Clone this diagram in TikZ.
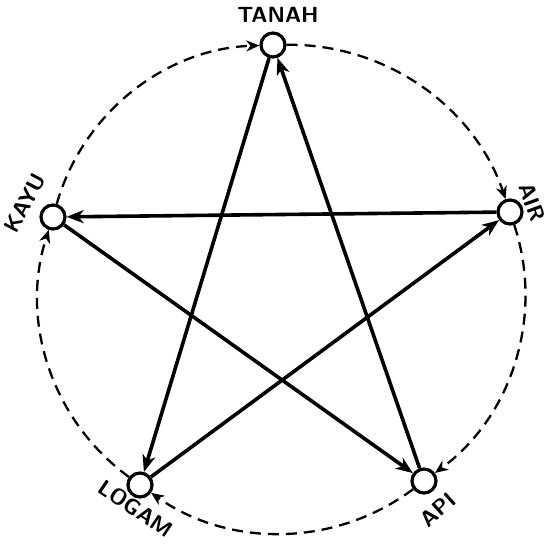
\documentclass[tikz,border=0pt]{standalone}
\usetikzlibrary{arrows.meta}
\begin{document}
\begin{tikzpicture}[x=1pt,y=1pt,
  elem/.style={circle,draw,line width=3.2pt,minimum size=24pt,inner sep=0pt},
  gen/.style={line width=3.6pt,-{Stealth[length=17pt,width=13pt,inset=5pt]}},
  ctrl/.style={line width=2.3pt,dash pattern=on 11pt off 7pt,-{Stealth[length=13pt,width=11pt,inset=4pt]},bend left=36,looseness=0.94},
  lab/.style={font=\fontsize{22}{22}\selectfont\sffamily\bfseries,inner sep=0pt}]
\useasboundingbox (0,0) rectangle (547,544);
\node[elem] (tanah) at (273,499) {};
\node[elem] (air) at (510,332) {};
\node[elem] (api) at (424,63) {};
\node[elem] (logam) at (140,59) {};
\node[elem] (kayu) at (53,327) {};
\node[lab] (ltanah) at (278,529) {TANAH};
\node[lab,rotate=62] (lkayu) at (25,341) {KAYU};
\node[lab,rotate=-70] (lair) at (532,342) {AIR};
\node[lab,rotate=-34] (llogam) at (136,35) {LOGAM};
\node[lab,rotate=42] (lapi) at (438,34) {API};
\draw[gen] (kayu) -- (api);
\draw[gen] (api) -- (tanah);
\draw[gen] (tanah) -- (logam);
\draw[gen] (logam) -- (air);
\draw[gen] (air) -- (kayu);
\draw[ctrl] (kayu) to (tanah);
\draw[ctrl] (tanah) to (air);
\draw[ctrl] (air) to (api);
\draw[ctrl] (api) to (logam);
\draw[ctrl] (logam) to (kayu);
\end{tikzpicture}
\end{document}
